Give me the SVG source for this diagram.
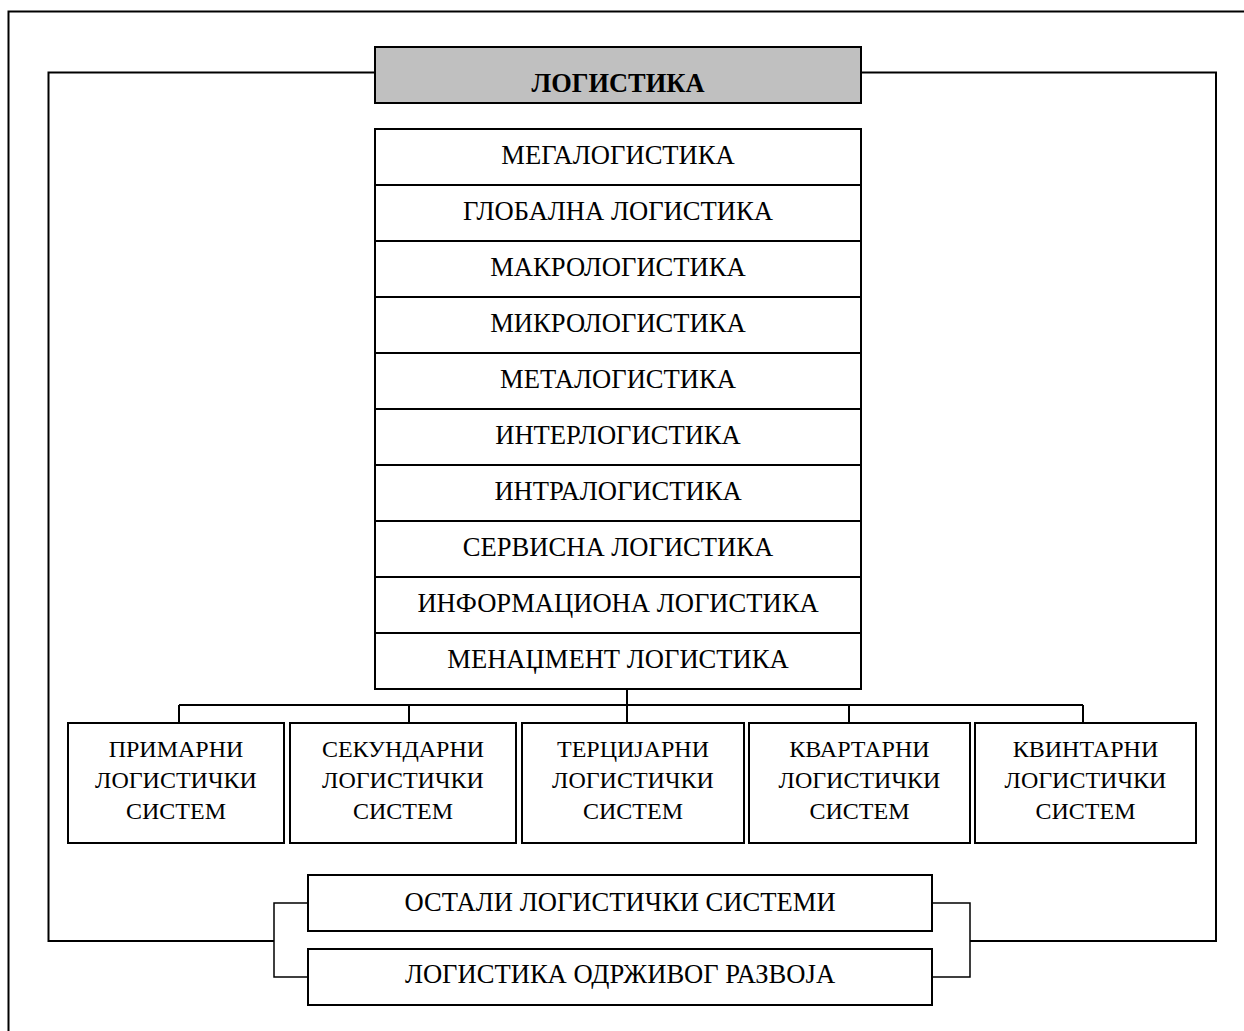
<svg xmlns="http://www.w3.org/2000/svg" width="1244" height="1031" viewBox="0 0 1244 1031">
<style>
.ln{fill:none;stroke:#000;stroke-width:2}
.thin{fill:none;stroke:#000;stroke-width:1.5}
.box{fill:#fff;stroke:#000;stroke-width:2}
.title{fill:#c0c0c0;stroke:#000;stroke-width:2}
text{font-family:"Liberation Serif","Times New Roman",serif;fill:#000;text-anchor:middle}
.t25{font-size:26.6px}
.t24{font-size:24px}
.tb{font-size:26.4px;font-weight:bold}
</style>
<rect width="1244" height="1031" fill="#fff"/>
<g id="connectors">
<path class="ln" d="M8.5,1031 V11.5 H1244"/>
<path class="ln" d="M375,72.5 H48.5 V941 H274"/>
<path class="ln" d="M861,72.5 H1216 V941 H970"/>
<path class="ln" d="M627,689 V723 M179,705 H1083 M179,705 V723 M409,705 V723 M849,705 V723 M1083,705 V723"/>
<path class="thin" d="M308,903 H274 V977 H308"/>
<path class="thin" d="M932,903 H970 V977 H932"/>
</g>
<g id="logistika">
<rect class="title" x="375" y="47" width="486" height="56"/>
<text class="tb" x="618" y="92">ЛОГИСТИКА</text>
</g>
<g id="list">
<rect class="box" x="375" y="129" width="486" height="560"/>
<path class="ln" d="M375,185 H861 M375,241 H861 M375,297 H861 M375,353 H861 M375,409 H861 M375,465 H861 M375,521 H861 M375,577 H861 M375,633 H861"/>
<text class="t25" x="618" y="164">МЕГАЛОГИСТИКА</text>
<text class="t25" x="618" y="220">ГЛОБАЛНА ЛОГИСТИКА</text>
<text class="t25" x="618" y="276">МАКРОЛОГИСТИКА</text>
<text class="t25" x="618" y="332">МИКРОЛОГИСТИКА</text>
<text class="t25" x="618" y="388">МЕТАЛОГИСТИКА</text>
<text class="t25" x="618" y="444">ИНТЕРЛОГИСТИКА</text>
<text class="t25" x="618" y="500">ИНТРАЛОГИСТИКА</text>
<text class="t25" x="618" y="556">СЕРВИСНА ЛОГИСТИКА</text>
<text class="t25" x="618" y="612">ИНФОРМАЦИОНА ЛОГИСТИКА</text>
<text class="t25" x="618" y="668">МЕНАЏМЕНТ ЛОГИСТИКА</text>
</g>
<g id="primarni">
<rect class="box" x="68" y="723" width="216" height="120"/>
<text class="t24" x="176" y="757">ПРИМАРНИ</text>
<text class="t24" x="176" y="788">ЛОГИСТИЧКИ</text>
<text class="t24" x="176" y="819">СИСТЕМ</text>
</g>
<g id="sekundarni">
<rect class="box" x="290" y="723" width="226" height="120"/>
<text class="t24" x="403" y="757">СЕКУНДАРНИ</text>
<text class="t24" x="403" y="788">ЛОГИСТИЧКИ</text>
<text class="t24" x="403" y="819">СИСТЕМ</text>
</g>
<g id="tercijarni">
<rect class="box" x="522" y="723" width="222" height="120"/>
<text class="t24" x="633" y="757">ТЕРЦИЈАРНИ</text>
<text class="t24" x="633" y="788">ЛОГИСТИЧКИ</text>
<text class="t24" x="633" y="819">СИСТЕМ</text>
</g>
<g id="kvartarni">
<rect class="box" x="749" y="723" width="221" height="120"/>
<text class="t24" x="859.5" y="757">КВАРТАРНИ</text>
<text class="t24" x="859.5" y="788">ЛОГИСТИЧКИ</text>
<text class="t24" x="859.5" y="819">СИСТЕМ</text>
</g>
<g id="kvintarni">
<rect class="box" x="975" y="723" width="221" height="120"/>
<text class="t24" x="1085.5" y="757">КВИНТАРНИ</text>
<text class="t24" x="1085.5" y="788">ЛОГИСТИЧКИ</text>
<text class="t24" x="1085.5" y="819">СИСТЕМ</text>
</g>
<g id="ostali">
<rect class="box" x="308" y="875" width="624" height="56"/>
<text class="t25" x="620" y="911">ОСТАЛИ ЛОГИСТИЧКИ СИСТЕМИ</text>
</g>
<g id="odrzivi">
<rect class="box" x="308" y="949" width="624" height="56"/>
<text class="t25" x="620" y="983">ЛОГИСТИКА ОДРЖИВОГ РАЗВОЈА</text>
</g>
</svg>
